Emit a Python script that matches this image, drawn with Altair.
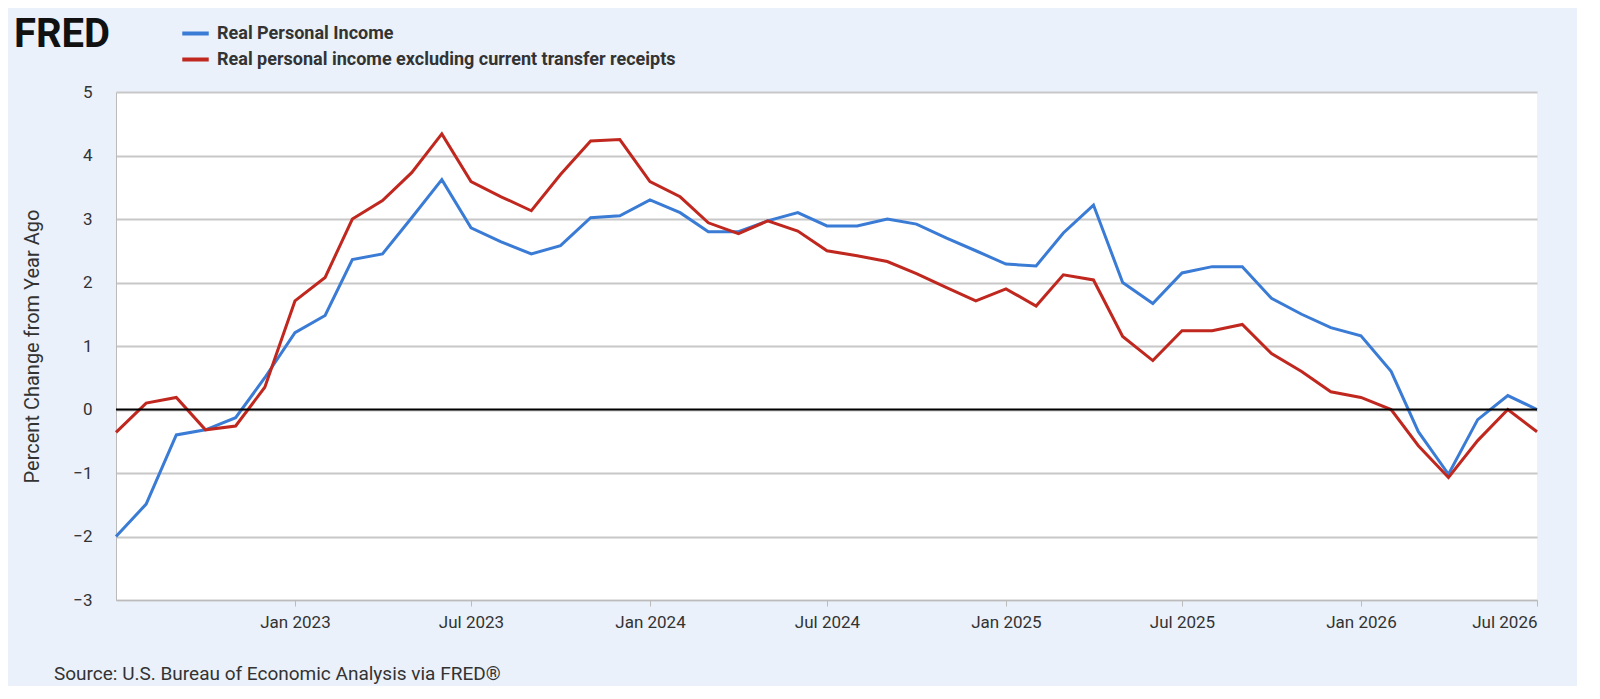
import altair as alt
import pandas as pd

months = pd.date_range("2022-07-01", "2026-07-01", freq="MS").strftime("%Y-%m-%d").tolist()
real_pi = [-2.0, -1.49, -0.4, -0.32, -0.13, 0.5, 1.21, 1.48, 2.36, 2.45, 3.02, 3.62,
           2.86, 2.64, 2.45, 2.58, 3.02, 3.05, 3.3, 3.1, 2.8, 2.8, 2.97, 3.1,
           2.89, 2.89, 3.0, 2.92, 2.7, 2.5, 2.29, 2.26, 2.78, 3.22, 2.0, 1.67,
           2.15, 2.25, 2.25, 1.75, 1.5, 1.29, 1.16, 0.6, -0.35, -1.02, -0.16, 0.22, 0.0]
real_pi_ex = [-0.36, 0.1, 0.19, -0.32, -0.26, 0.35, 1.71, 2.08, 3.0, 3.29, 3.73, 4.34,
              3.59, 3.35, 3.13, 3.7, 4.23, 4.25, 3.59, 3.35, 2.94, 2.77, 2.97, 2.81,
              2.5, 2.42, 2.33, 2.14, 1.92, 1.71, 1.9, 1.63, 2.12, 2.04, 1.15, 0.77,
              1.24, 1.24, 1.34, 0.88, 0.6, 0.28, 0.19, 0.0, -0.57, -1.07, -0.49, 0.0, -0.35]
series_names = ["Real Personal Income", "Real personal income excluding current transfer receipts"]
colors = ["#3a7bd5", "#c0281f"]

df = pd.concat([
    pd.DataFrame({"date": months, "value": real_pi, "series": series_names[0]}),
    pd.DataFrame({"date": months, "value": real_pi_ex, "series": series_names[1]}),
])

tick_dates = [alt.DateTime(year=y, month=m, date=1, utc=True)
              for y, m in [(2023, 1), (2023, 7), (2024, 1), (2024, 7), (2025, 1), (2025, 7), (2026, 1), (2026, 7)]]

x = alt.X("date:T",
          scale=alt.Scale(type="utc", domain=[alt.DateTime(year=2022, month=7, date=1, utc=True),
                                              alt.DateTime(year=2026, month=7, date=1, utc=True)]),
          axis=alt.Axis(values=tick_dates, labelExpr="utcFormat(datum.value, '%b %Y')", title=None, grid=False,
                        labelFontSize=17, labelColor="#333", labelFont="Roboto", labelPadding=8,
                        tickColor="#bbb", tickSize=6, domainColor="#bbb"))

lines = alt.Chart(df).mark_line(strokeWidth=3).encode(
    x=x,
    y=alt.Y("value:Q", scale=alt.Scale(domain=[-3, 5], nice=False),
            axis=alt.Axis(values=list(range(-3, 6)), format="d", title="Percent Change from Year Ago",
                          titleFontSize=20, titleFontWeight="normal", titleColor="#333", titleFont="Roboto",
                          labelFontSize=17, labelColor="#333", labelFont="Roboto", labelPadding=24,
                          ticks=False, domainColor="#bbb", gridColor="#c8c8c8", gridWidth=2, titlePadding=30)),
    color=alt.Color("series:N", scale=alt.Scale(domain=series_names, range=colors),
                    legend=alt.Legend(orient="none", legendX=64, legendY=-74, title=None,
                                      symbolType="stroke", symbolStrokeWidth=4, symbolSize=700,
                                      labelFontSize=18, labelFontWeight="bold", labelColor="#333",
                                      labelFont="Roboto", rowPadding=1, labelLimit=800, labelOffset=6)),
)

zero = alt.Chart(pd.DataFrame({"y": [0]})).mark_rule(color="black", strokeWidth=2).encode(y="y:Q")

logo = alt.Chart(pd.DataFrame({"t": ["FRED"]})).mark_text(
    fontSize=40, fontWeight="bold", font="Roboto", align="left", baseline="middle", color="#111"
).encode(text="t:N", x=alt.value(-102), y=alt.value(-57))

source = alt.Chart(pd.DataFrame({"t": ["Source: U.S. Bureau of Economic Analysis via FRED®"]})).mark_text(
    fontSize=19, font="Roboto", align="left", baseline="middle", color="#333"
).encode(text="t:N", x=alt.value(-62), y=alt.value(582))

chart = alt.layer(lines, zero, logo, source).properties(
    width=1421, height=508, background="#eaf1fa",
    padding={"left": 108, "top": 84, "right": 40, "bottom": 86},
    autosize=alt.AutoSizeParams(type="none"),
).configure_view(fill="white", stroke=None)

chart.save("out.html", embed_options={"renderer": "svg", "actions": False})
